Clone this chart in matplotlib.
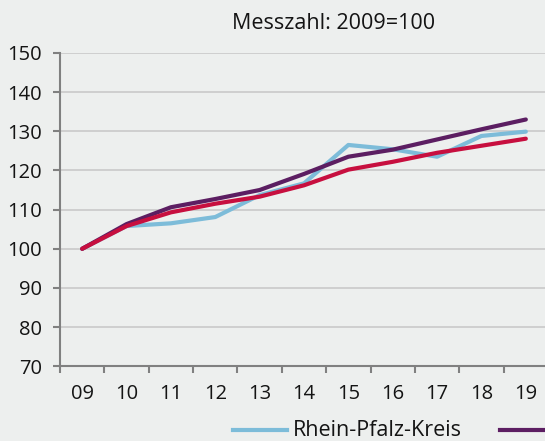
import matplotlib
matplotlib.use("Agg")
import matplotlib.pyplot as plt
from matplotlib.lines import Line2D
import numpy as np

plt.rcParams['font.family'] = ['Open Sans', 'DejaVu Sans']

years = ["09", "10", "11", "12", "13", "14", "15", "16", "17", "18", "19"]
rhein_pfalz_kreis = [100, 105.8, 106.5, 108.1, 113.7, 116.7, 126.5, 125.4, 123.5, 128.8, 129.9]
purple_series = [100, 106.3, 110.6, 112.7, 115.0, 119.1, 123.5, 125.3, 127.9, 130.5, 133.0]
red_series = [100, 105.8, 109.3, 111.5, 113.3, 116.2, 120.2, 122.2, 124.5, 126.3, 128.1]
y_ticks = [70, 80, 90, 100, 110, 120, 130, 140, 150]
title_text = "Messzahl: 2009=100"
legend_label = "Rhein-Pfalz-Kreis"

W, H = 545, 441
bg = "#edefee"
c_blue = "#7dbcd9"
c_purple = "#5c1e62"
c_red = "#c70f3f"
txt = "#141414"

fig = plt.figure(figsize=(W / 100, H / 100), dpi=100, facecolor=bg)
ax = fig.add_axes([60 / W, (H - 366.3) / H, 488 / W, 313.4 / H], facecolor=bg)

x = np.arange(len(years))
ax.plot(x, rhein_pfalz_kreis, color=c_blue, lw=3.0, solid_capstyle='round', zorder=3)
ax.plot(x, purple_series, color=c_purple, lw=3.0, solid_capstyle='round', zorder=4)
ax.plot(x, red_series, color=c_red, lw=3.0, solid_capstyle='round', zorder=5)

ax.set_xlim(-0.5, len(years) - 0.5)
ax.set_ylim(70, 150)
ax.set_yticks(y_ticks)
ax.set_yticklabels([str(v) for v in y_ticks])
ax.set_xticks(x)
ax.set_xticklabels(years)
ax.set_xticks(np.arange(-0.5, len(years), 1.0), minor=True)

ax.grid(axis='y', color='#c9c9c9', lw=1.2, zorder=1)
ax.set_axisbelow(True)
for s in ['top', 'right']:
    ax.spines[s].set_visible(False)
for s in ['left', 'bottom']:
    ax.spines[s].set_color('#808080')
    ax.spines[s].set_linewidth(1.5)

ax.tick_params(axis='y', length=5, width=1.5, color='#808080', pad=8, labelsize=14.5, labelcolor=txt)
ax.tick_params(axis='x', which='major', length=0, pad=13, labelsize=14.5, labelcolor=txt)
ax.tick_params(axis='x', which='minor', length=5, width=1.5, color='#808080')

fig.text(334 / W, 1 - 23.5 / H, title_text, ha='center', va='center', fontsize=15.5, color=txt)

# legend (cropped at right edge)
ly = 1 - 430 / H
fig.add_artist(Line2D([233 / W, 287 / W], [ly, ly], transform=fig.transFigure, color=c_blue, lw=3.0))
fig.text(293 / W, ly, legend_label, ha='left', va='center', fontsize=15.5, color=txt)
fig.add_artist(Line2D([500 / W, 560 / W], [ly, ly], transform=fig.transFigure, color=c_purple, lw=3.0))

fig.savefig("out.png", dpi=100, facecolor=bg)
